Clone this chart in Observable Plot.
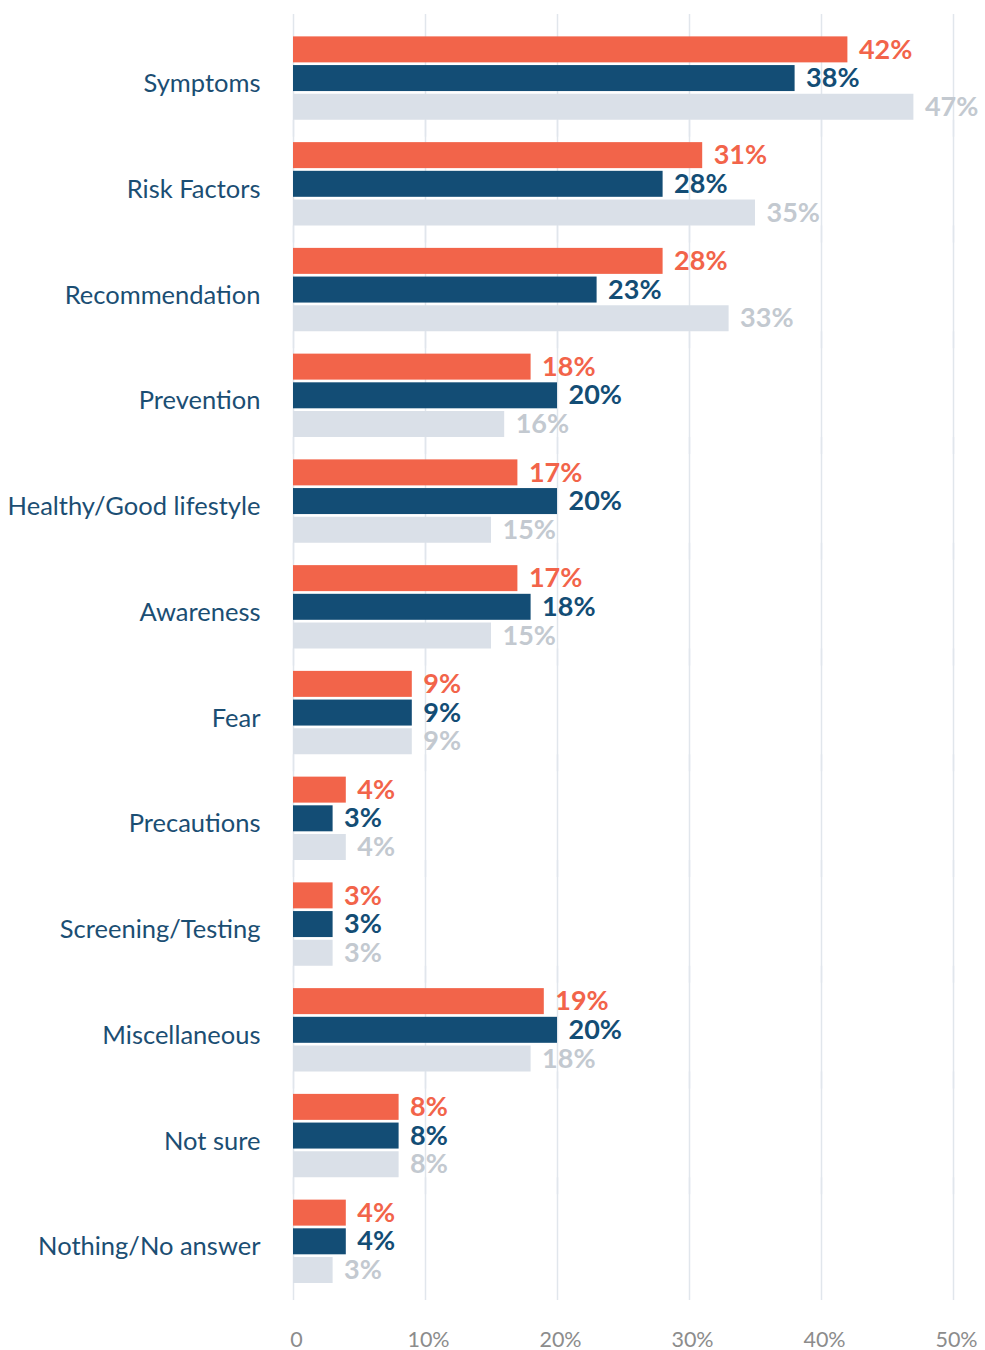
<!DOCTYPE html>
<html>
<head>
<meta charset="utf-8">
<script src="https://cdn.jsdelivr.net/npm/d3@7"></script>
<script src="https://cdn.jsdelivr.net/npm/@observablehq/plot@0.6"></script>
<style>
  html, body { margin: 0; padding: 0; background: #ffffff; }
  #chart svg { display: block; }
</style>
</head>
<body>
<div id="chart"></div>
<script>
const categories = ["Symptoms", "Risk Factors", "Recommendation", "Prevention", "Healthy/Good lifestyle", "Awareness", "Fear", "Precautions", "Screening/Testing", "Miscellaneous", "Not sure", "Nothing/No answer"];
const seriesNames = ["Group 1", "Group 2", "Group 3"];
const series1 = [42, 31, 28, 18, 17, 17, 9, 4, 3, 19, 8, 4];
const series2 = [38, 28, 23, 20, 20, 18, 9, 3, 3, 20, 8, 4];
const series3 = [47, 35, 33, 16, 15, 15, 9, 4, 3, 18, 8, 3];
const xTicks = [0, 10, 20, 30, 40, 50];

const barColors = ["#F2644A", "#134D75", "#DAE0E8"];
const labelColors = ["#F2644A", "#134D75", "#C3C9D0"];
const allSeries = [series1, series2, series3];

const data = categories.flatMap((c, i) =>
  seriesNames.map((s, j) => ({category: c, series: s, value: allSeries[j][i], k: j}))
);

const chart = Plot.plot({
  width: 985,
  height: 1350,
  marginLeft: 293,
  marginRight: 32,
  marginTop: 14,
  marginBottom: 67,
  style: {fontFamily: "Lato, 'Open Sans', sans-serif", background: "#ffffff"},
  x: {domain: [0, 50]},
  y: {domain: seriesNames, axis: null, round: false, paddingInner: 0.094, paddingOuter: 0.39, align: 1},
  fy: {domain: categories, axis: null, round: false, paddingInner: 0, paddingOuter: 0},
  color: {domain: seriesNames, range: barColors},
  marks: [
    Plot.ruleX(xTicks, {stroke: "#E1E6EC", strokeWidth: 1.5, insetBottom: -17}),
    Plot.barX(data, {x: "value", y: "series", fy: "category", fill: "series"}),
    Plot.text(data, {
      x: "value", y: "series", fy: "category",
      text: d => d.value + "%",
      dx: 11, textAnchor: "start",
      fill: d => labelColors[d.k],
      fontSize: 27, fontWeight: 700
    }),
    Plot.text(data, {
      filter: d => d.k === 1,
      y: "series", fy: "category",
      text: "category",
      frameAnchor: "left",
      dx: -33, dy: 5.5,
      textAnchor: "end",
      fill: "#1B4E73",
      fontSize: 25.5
    }),
    Plot.axisX({
      ticks: xTicks,
      tickFormat: d => d === 0 ? "0" : d + "%",
      tickSize: 0,
      tickPadding: 48,
      fontSize: 21.5,
      fill: "#8C8C8C",
      dx: 3,
      label: null
    })
  ]
});

document.getElementById("chart").appendChild(chart);
</script>
</body>
</html>
